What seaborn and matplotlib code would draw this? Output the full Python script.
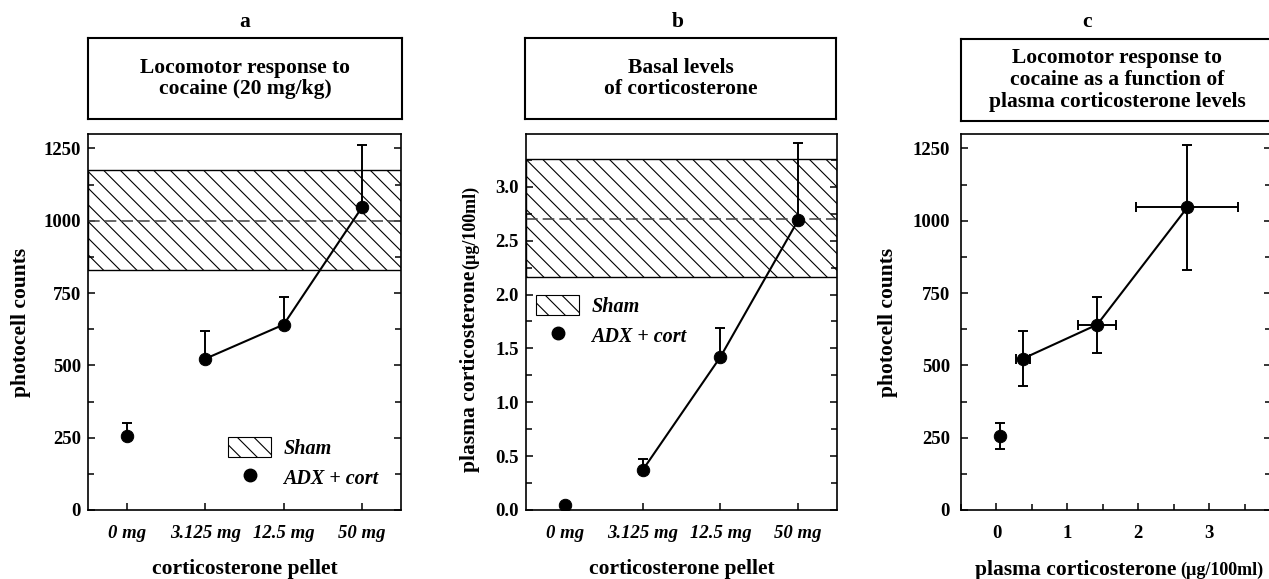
import numpy as np
import pandas as pd
import matplotlib
matplotlib.use("Agg")
import matplotlib.pyplot as plt
import seaborn as sns
from matplotlib.patches import Patch
from matplotlib.lines import Line2D
from matplotlib.ticker import MultipleLocator

# ---------------- data ----------------
doses = ["0 mg", "3.125 mg", "12.5 mg", "50 mg"]
loco_mean = [255, 523, 641, 1046]          # photocell counts
loco_sem = [45, 95, 97, 215]
cort_mean = [0.05, 0.37, 1.42, 2.69]       # plasma corticosterone (µg/100ml)
cort_sem = [0.0, 0.10, 0.27, 0.72]
sham_loco = [830, 1000, 1175]              # low, mean, high
sham_cort = [2.16, 2.70, 3.26]
panel_letters = ["a", "b", "c"]
panel_titles = ["Locomotor response to\ncocaine (20 mg/kg)",
                "Basal levels\nof corticosterone",
                "Locomotor response to\ncocaine as a function of\nplasma corticosterone levels"]

# ---------------- style ----------------
sns.set_theme(style="ticks", rc={"axes.edgecolor": "black", "xtick.color": "black",
                                 "ytick.color": "black", "text.color": "black",
                                 "axes.labelcolor": "black"})
plt.rcParams["font.family"] = ["Liberation Serif", "DejaVu Serif"]
plt.rcParams["font.weight"] = "bold"
plt.rcParams["axes.labelweight"] = "bold"
plt.rcParams["hatch.linewidth"] = 0.8
plt.rcParams["hatch.color"] = "black"
plt.rcParams["axes.linewidth"] = 1.2

W, H = 1269, 579
fig = plt.figure(figsize=(W / 100, H / 100), dpi=100)


def px_axes(l, r, t, b):
    return fig.add_axes([l / W, 1 - b / H, (r - l) / W, (b - t) / H])


TICK_FS = 13.5
LAB_FS = 15.5
LEG_FS = 14.5
UNIT_FS = 13


def style_axis(ax, ypad=5):
    ax.tick_params(which="both", direction="in", left=True, right=True, top=False,
                   bottom=True, width=1.1, labelsize=TICK_FS)
    ax.tick_params(which="major", length=5)
    ax.tick_params(which="minor", length=4)
    ax.tick_params(axis="y", pad=ypad)
    for lab in ax.get_yticklabels():
        lab.set_fontweight("bold")


def dose_panel(ax, mean, sem, sham, ylim, major, minor):
    pos = np.arange(len(doses))
    low, mid, high = sham
    ax.axhspan(low, high, facecolor="none", edgecolor="black", hatch="\\\\", lw=1.0, zorder=1)
    ax.axhline(mid, color="0.3", lw=1.2, dashes=(7, 3), zorder=1.5)
    df = pd.DataFrame({"x": pos, "y": mean})
    sns.lineplot(data=df.iloc[1:], x="x", y="y", ax=ax, color="black", lw=1.5,
                 zorder=3, sort=False)
    ax.errorbar(pos, mean, yerr=[np.zeros(len(sem)), sem], fmt="none", ecolor="black",
                elinewidth=1.4, capsize=3.5, capthick=1.4, zorder=3)
    sns.scatterplot(data=df, x="x", y="y", ax=ax, s=80, color="black",
                    edgecolor="black", zorder=4, legend=False)
    ax.set_xlim(-0.5, len(doses) - 0.5)
    ax.set_ylim(*ylim)
    ax.set_xticks(pos)
    ax.set_xticklabels(doses, fontstyle="italic", fontweight="bold")
    ax.yaxis.set_major_locator(MultipleLocator(major))
    ax.yaxis.set_minor_locator(MultipleLocator(minor))
    style_axis(ax)
    ax.tick_params(axis="x", pad=11)
    ax.set_xlabel("corticosterone pellet", fontsize=LAB_FS, labelpad=12)
    ax.set_ylabel("")


def add_legend(ax, anchor):
    handles = [Patch(facecolor="white", edgecolor="black", hatch="\\\\", lw=0.8),
               Line2D([], [], ls="none", marker="o", ms=9, color="black")]
    leg = ax.legend(handles, ["Sham", "ADX + cort"], loc="upper left", bbox_to_anchor=anchor,
                    frameon=False, borderpad=0, borderaxespad=0, handlelength=2.15,
                    handleheight=1.15, handletextpad=0.6, labelspacing=0.4,
                    prop={"family": ["Liberation Serif"], "weight": "bold",
                          "style": "italic", "size": LEG_FS})
    return leg


# ---------------- panel a ----------------
ax_a = px_axes(88, 401, 134, 510)
dose_panel(ax_a, loco_mean, loco_sem, sham_loco, (0, 1300), 250, 125)
ax_a.set_ylabel("photocell counts", fontsize=LAB_FS, labelpad=9)
add_legend(ax_a, ((228 - 88) / 313, (510 - 437) / 376))

# ---------------- panel b ----------------
ax_b = px_axes(526, 837, 134, 510)
dose_panel(ax_b, cort_mean, cort_sem, sham_cort, (0, 3.49), 0.5, 0.25)
ax_b.yaxis.set_major_formatter(matplotlib.ticker.FormatStrFormatter("%.1f"))
add_legend(ax_b, ((536 - 526) / 311, (510 - 295) / 376))

# ---------------- panel c ----------------
ax_c = px_axes(961, 1271, 134, 510)
dfc = pd.DataFrame({"x": cort_mean, "y": loco_mean})
sns.lineplot(data=dfc.iloc[1:], x="x", y="y", ax=ax_c, color="black", lw=1.5, zorder=3, sort=False)
ax_c.errorbar(cort_mean, loco_mean, yerr=loco_sem, xerr=cort_sem, fmt="none", ecolor="black",
              elinewidth=1.4, capsize=3.5, capthick=1.4, zorder=3)
sns.scatterplot(data=dfc, x="x", y="y", ax=ax_c, s=80, color="black", edgecolor="black",
                zorder=4, legend=False)
ax_c.set_xlim(-0.5, 3.87)
ax_c.set_ylim(0, 1300)
ax_c.xaxis.set_major_locator(MultipleLocator(1))
ax_c.xaxis.set_minor_locator(MultipleLocator(0.5))
ax_c.yaxis.set_major_locator(MultipleLocator(250))
ax_c.yaxis.set_minor_locator(MultipleLocator(125))
style_axis(ax_c, ypad=8)
ax_c.tick_params(axis="x", pad=11)
for lab in ax_c.get_xticklabels():
    lab.set_fontweight("bold")
ax_c.set_xlabel("")
ax_c.set_ylabel("photocell counts", fontsize=LAB_FS, labelpad=10)

# ---------------- title boxes ----------------
boxes = [(88, 402, 38, 119), (525, 836, 38, 119), (961, 1273, 39, 121)]
letter_x = [245, 678, 1087]
for (l, r, t, b), title, letter, lx in zip(boxes, panel_titles, panel_letters, letter_x):
    bx = px_axes(l, r, t, b)
    bx.set_xticks([])
    bx.set_yticks([])
    for s in bx.spines.values():
        s.set_linewidth(1.5)
    bx.text(0.5, 0.5, title, ha="center", va="center", fontsize=LAB_FS,
            fontweight="bold", linespacing=1.12, transform=bx.transAxes)
    fig.text(lx / W, 1 - 22 / H, letter, ha="center", va="center", fontsize=LAB_FS,
             fontweight="bold")

# ---------------- compound labels ----------------
fig.canvas.draw()
renderer = fig.canvas.get_renderer()
t_main = fig.text(470 / W, 1 - 472 / H, "plasma corticosterone", rotation=90, ha="center",
                  va="bottom", fontsize=LAB_FS, fontweight="bold")
bb = t_main.get_window_extent(renderer)
fig.text(471 / W, (bb.y1 + 2) / H, "(µg/100ml)", rotation=90, ha="center", va="bottom",
         fontsize=UNIT_FS, fontweight="bold")

t_main2 = fig.text(975 / W, 1 - 575 / H, "plasma corticosterone", ha="left", va="baseline",
                   fontsize=LAB_FS, fontweight="bold")
bb2 = t_main2.get_window_extent(renderer)
fig.text((bb2.x1 + 4) / W, 1 - 575 / H, "(µg/100ml)", ha="left", va="baseline",
         fontsize=UNIT_FS, fontweight="bold")

fig.savefig("out.png", dpi=100)
